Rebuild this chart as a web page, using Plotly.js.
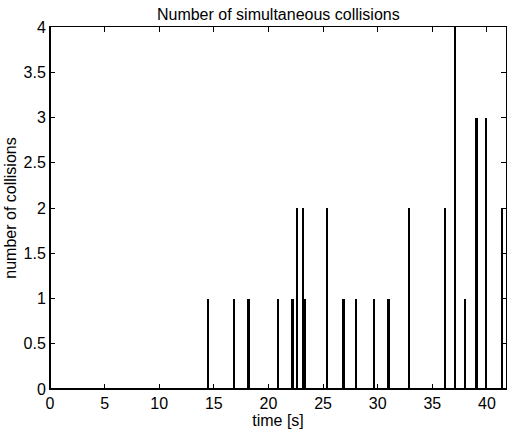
<!DOCTYPE html>
<html>
<head>
<meta charset="utf-8">
<script src="https://cdn.plot.ly/plotly-3.0.1.min.js"></script>
<style>html,body{margin:0;padding:0;background:#fff;}#chart{width:507px;height:435px;}</style>
</head>
<body>
<div id="chart"></div>
<script>
// collision times [s]
const times = [14.43, 16.85, 18.18, 20.85, 22.2, 22.65, 23.18, 23.3, 25.35, 26.8, 26.9, 28.05, 29.65, 31.0, 31.06, 32.85, 36.2, 37.1, 37.97, 39.05, 39.95, 41.38];
// number of simultaneous collisions at each time
const counts = [1, 1, 1, 1, 1, 2, 2, 1, 2, 1, 1, 1, 1, 1, 1, 2, 2, 4, 1, 3, 3, 2];
const xTicks = [0, 5, 10, 15, 20, 25, 30, 35, 40];
const yTicks = [0, 0.5, 1, 1.5, 2, 2.5, 3, 3.5, 4];
const yTickText = ["0", "0.5", "1", "1.5", "2", "2.5", "3", "3.5", "4"];

const font = "Liberation Sans, Arial, Helvetica, sans-serif";
const fs = 16;

Plotly.newPlot("chart", [{
  type: "bar",
  x: times,
  y: counts,
  width: 0.2,
  marker: {color: "#000", line: {width: 0}},
  hoverinfo: "x+y"
}], {
  width: 507, height: 435,
  margin: {l: 50, r: 1, t: 27, b: 46},
  paper_bgcolor: "#fff", plot_bgcolor: "#fff",
  font: {family: font, size: fs, color: "#000"},
  showlegend: false,
  bargap: 0,
  title: {text: "Number of simultaneous collisions", font: {family: font, size: fs, color: "#000"}, x: 0.549, xanchor: "center", y: 0.966, yanchor: "middle"},
  xaxis: {
    range: [0, 41.75], tickmode: "array", tickvals: xTicks, ticktext: xTicks.map(String),
    ticks: "inside", ticklen: 5, tickwidth: 1, tickcolor: "#000",
    showline: true, linecolor: "#000", linewidth: 1, mirror: "ticks",
    showgrid: false, zeroline: false,
    tickfont: {family: font, size: fs, color: "#000"},
    title: {text: "time [s]", font: {family: font, size: fs, color: "#000"}, standoff: 0}
  },
  yaxis: {
    range: [0, 4], tickmode: "array", tickvals: yTicks, ticktext: yTickText,
    ticks: "inside", ticklen: 5, tickwidth: 1, tickcolor: "#000",
    showline: true, linecolor: "#000", linewidth: 1, mirror: "ticks",
    showgrid: false, zeroline: false,
    tickfont: {family: font, size: fs, color: "#000"},
    title: {text: "number of collisions", font: {family: font, size: fs, color: "#000"}, standoff: 2}
  },
  shapes: [
    {type: "line", xref: "paper", yref: "paper", x0: 0, x1: 0, y0: 0, y1: 1, line: {color: "#000", width: 2}},
    {type: "line", xref: "paper", yref: "paper", x0: 0, x1: 1, y0: 0, y1: 0, line: {color: "#000", width: 2}}
  ]
}, {displayModeBar: false, staticPlot: true});
</script>
</body>
</html>
